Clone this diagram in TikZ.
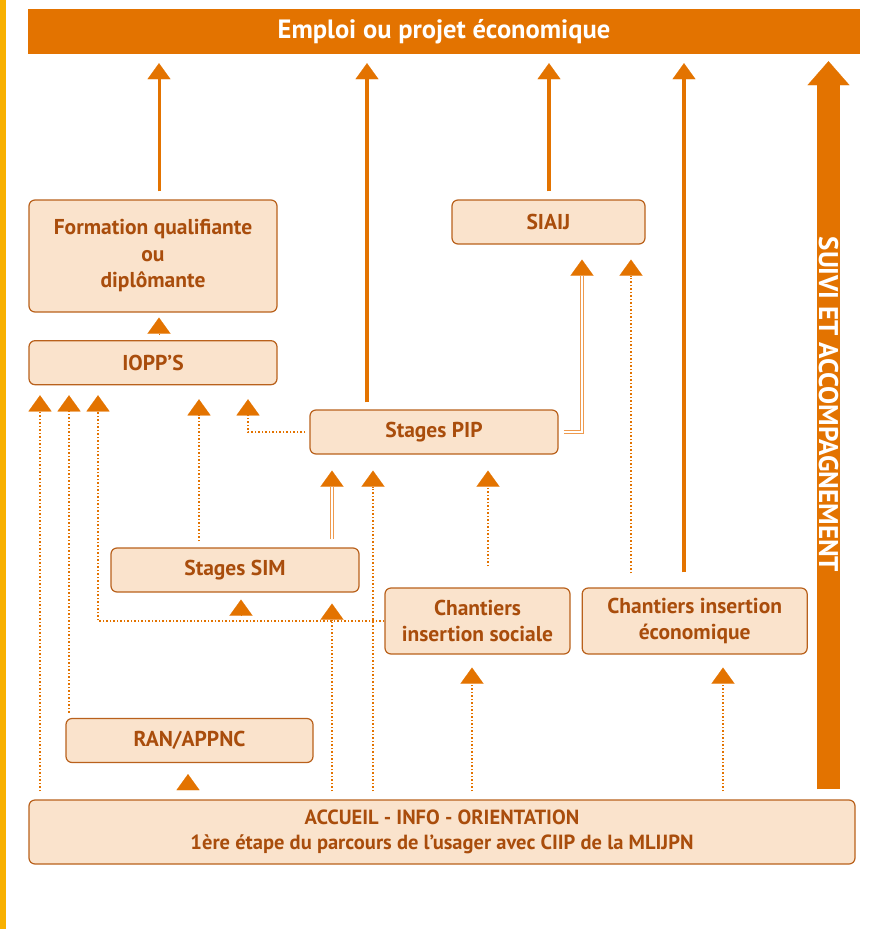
\documentclass[tikz,border=0pt]{standalone}
\usepackage{fontspec}
\setmainfont{PT Sans}
\usepackage{tikz}
\usetikzlibrary{positioning,calc,arrows.meta}
\definecolor{orangefonce}{HTML}{E37300}
\definecolor{jaune}{HTML}{F8B000}
\definecolor{peche}{HTML}{FAE3CC}
\definecolor{brun}{HTML}{B9611C}
\definecolor{texte}{HTML}{A94D0C}
\definecolor{clair}{HTML}{EE9A4E}
\tikzstyle{block}=[draw=brun, line width=1.2pt, fill=peche, rounded corners=6pt, inner sep=0pt, align=center, text=texte, font=\bfseries\fontsize{21.5}{26.5}\selectfont]
\tikzstyle{tri}=[-{Triangle[width=23pt,length=16pt,sep=4pt,line width=0.1pt,color=orangefonce,fill=orangefonce]}]
\tikzstyle{pointe}=[orangefonce, -{Triangle[width=23pt,length=16pt,line width=0.1pt]}]
\tikzstyle{fleche}=[orangefonce, line width=4.3pt, tri, shorten >=5pt]
\tikzstyle{pointille}=[orangefonce, line width=1.7pt, dash pattern=on 1.6pt off 1.9pt, tri]
\tikzstyle{doubletrait}=[clair, line width=0.8pt, double=white, double distance=2.4pt, tri]

\begin{document}
\begin{tikzpicture}[x=1pt,y=-1pt]
\useasboundingbox (0,0) rectangle (876,929);
\fill[jaune] (0,0) rectangle (6,929);
\node (banner) [fill=orangefonce, minimum width=832pt, minimum height=45pt, inner sep=0pt, text=white, font=\bfseries\fontsize{26.5}{30}\selectfont] at (444,31.5) {Emploi ou projet économique};
\node (form) [block, minimum width=248pt, minimum height=112pt] at (153,256) {Formation qualifiante\\ou\\diplômante};
\node (iopps) [block, below=27.5pt of form, minimum width=248pt, minimum height=44pt] {IOPP’S};
\node (siaij) [block, minimum width=193pt, minimum height=44pt] at (548.5,222) {SIAIJ};
\node (pip) [block, minimum width=248pt, minimum height=44pt] at (434,432) {Stages PIP};
\node (sim) [block, minimum width=248pt, minimum height=44pt] at (235,570) {Stages SIM};
\node (cis) [block, minimum width=185pt, minimum height=66pt] at (477.5,621) {Chantiers\\insertion sociale};
\node (cie) [block, right=11pt of cis, minimum width=225pt, minimum height=66pt] {Chantiers insertion\\économique};
\node (ran) [block, minimum width=247pt, minimum height=44pt] at (189.5,740.5) {RAN/APPNC};
\node (accueil) [block, minimum width=826pt, minimum height=64pt, font=\bfseries\fontsize{20.5}{25}\selectfont] at (442,832) {ACCUEIL - INFO - ORIENTATION\\1ère étape du parcours de l’usager avec CIIP de la MLIJPN};

\draw[orangefonce, line width=23pt, -{Triangle[width=42pt,length=24pt,line width=0.1pt]}, shorten <=10pt, shorten >=7pt] (accueil.north -| 828.5,0) -- node[pos=0.53, rotate=-90, text=white, font=\bfseries\fontsize{27}{30}\selectfont] (suivi) {SUIVI ET ACCOMPAGNEMENT} (banner.south -| 828.5,0);

\draw[fleche, line width=3pt, shorten <=8pt] (form.north -| 159,0) -- (banner.south -| 159,0);
\draw[fleche, shorten <=7pt] (pip.north -| 367,0) -- (banner.south -| 367,0);
\draw[fleche, shorten <=8pt] (siaij.north -| 549,0) -- (banner.south -| 549,0);
\draw[fleche, shorten <=15pt] (cie.north -| 684,0) -- (banner.south -| 684,0);

\draw[pointe, shorten <=6pt, shorten >=5pt] (iopps.north -| 159,0) -- (form.south -| 159,0);
\draw[pointille, shorten <=8pt, shorten >=6pt] (accueil.north -| 40,0) -- (iopps.south -| 40,0);
\draw[pointille, shorten <=5pt, shorten >=6pt] (ran.north -| 69,0) -- (iopps.south -| 69,0);
\draw[pointille, shorten >=6pt] (cis.west) -| (iopps.south -| 98,0);
\draw[pointille, shorten <=6pt, shorten >=10pt] (sim.north -| 199,0) -- (iopps.south -| 199,0);
\draw[pointille, shorten <=4pt, shorten >=10pt] (pip.west) -| (iopps.south -| 248,0);

\draw[doubletrait, shorten <=8pt, shorten >=12pt] (sim.north -| 332,0) -- (pip.south -| 332,0);
\draw[pointille, shorten <=8pt, shorten >=12pt] (accueil.north -| 373,0) -- (pip.south -| 373,0);
\draw[pointille, shorten <=21pt, shorten >=12pt] (cis.north -| 488,0) -- (pip.south -| 488,0);

\draw[doubletrait, shorten <=5pt, shorten >=11pt] (pip.east) -| (siaij.south -| 582,0);
\draw[pointille, shorten <=14pt, shorten >=11pt] (cie.north -| 631,0) -- (siaij.south -| 631,0);

\draw[pointille, shorten <=8pt, shorten >=7pt] (accueil.north -| 332,0) -- (sim.south -| 332,0);
\draw[pointe, shorten <=6pt, shorten >=7pt] (cis.west -| 241,0) -- (sim.south -| 241,0);
\draw[pointille, shorten <=8pt, shorten >=9pt] (accueil.north -| 472,0) -- (cis.south -| 472,0);
\draw[pointille, shorten <=8pt, shorten >=9pt] (accueil.north -| 723,0) -- (cie.south -| 723,0);
\draw[pointe, shorten <=10pt, shorten >=11pt] (accueil.north -| 188,0) -- (ran.south -| 188,0);
\end{tikzpicture}
\end{document}
